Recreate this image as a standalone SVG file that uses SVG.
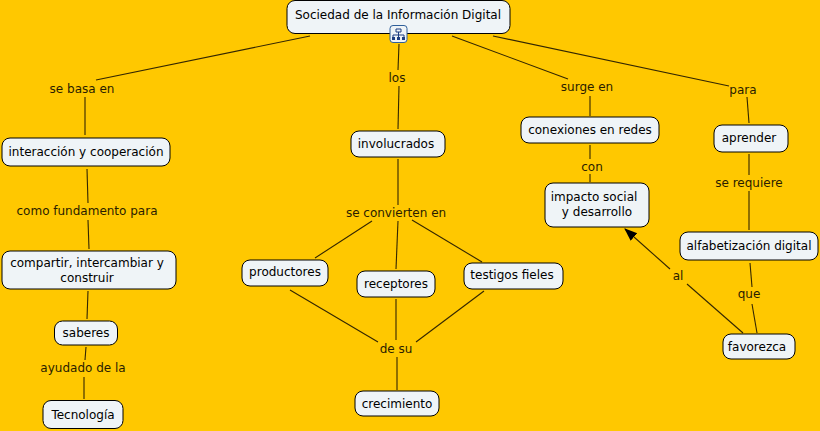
<svg xmlns="http://www.w3.org/2000/svg" width="820" height="431" viewBox="0 0 820 431">
<style>
text{font-family:"DejaVu Sans",Verdana,sans-serif;font-size:12px;fill:#000;text-anchor:middle}
.n rect{fill:#eff4f7;stroke:#000;stroke-width:1}
.l{fill:#2a1d00}
#connectors line{stroke:#332600;stroke-width:1.1}
</style>
<defs><marker id="a" markerWidth="14" markerHeight="12" refX="12" refY="5" orient="auto" markerUnits="userSpaceOnUse"><path d="M0 0L13 5L0 10Z" fill="#000"/></marker></defs>
<rect width="820" height="431" fill="#ffc800"/>
<g id="connectors">
<line x1="310" y1="36" x2="96" y2="80"/><line x1="85" y1="97" x2="85" y2="135"/>
<line x1="399" y1="44" x2="398" y2="70"/><line x1="399" y1="86" x2="398" y2="129"/>
<line x1="452" y1="36" x2="568" y2="79"/><line x1="590" y1="96" x2="590" y2="116"/>
<line x1="493" y1="36" x2="729" y2="86"/><line x1="747" y1="97" x2="749" y2="123"/>
<line x1="87" y1="169" x2="88" y2="203"/><line x1="88" y1="220" x2="89" y2="249"/>
<line x1="88" y1="291" x2="87" y2="319"/>
<line x1="86" y1="347" x2="85" y2="360"/><line x1="84" y1="377" x2="84" y2="399"/>
<line x1="398" y1="159" x2="398" y2="205"/>
<line x1="372" y1="221" x2="315" y2="258"/><line x1="398" y1="221" x2="396" y2="269"/><line x1="412" y1="220" x2="482" y2="262"/>
<line x1="290" y1="290" x2="378" y2="342"/><line x1="396" y1="299" x2="396" y2="340"/><line x1="484" y1="291" x2="416" y2="342"/>
<line x1="397" y1="357" x2="397" y2="390"/>
<line x1="590" y1="145" x2="590" y2="159"/><line x1="590" y1="174" x2="590" y2="182"/>
<line x1="749" y1="154" x2="749" y2="175"/><line x1="749" y1="191" x2="749" y2="230"/>
<line x1="750" y1="263" x2="752" y2="287"/><line x1="752" y1="304" x2="757" y2="333"/>
<line x1="743" y1="333" x2="687" y2="284"/><line x1="670" y1="269" x2="625" y2="229" marker-end="url(#a)"/>
</g>
<g id="linking-labels">
<text class="l" x="82" y="93">se basa en</text>
<text class="l" x="397" y="82">los</text>
<text class="l" x="587" y="91">surge en</text>
<text class="l" x="743" y="94">para</text>
<text class="l" x="87" y="215">como fundamento para</text>
<text class="l" x="83" y="372">ayudado de la</text>
<text class="l" x="396" y="217">se convierten en</text>
<text class="l" x="396" y="353">de su</text>
<text class="l" x="592" y="171">con</text>
<text class="l" x="749" y="187">se requiere</text>
<text class="l" x="749" y="298">que</text>
<text class="l" x="678" y="280">al</text>
</g>
<g id="root" class="n"><rect x="287" y="0.5" width="223" height="33" rx="8"/><text x="398" y="19">Sociedad de la Información Digital</text></g>
<g id="icon"><rect x="390" y="25.500" width="17" height="17" rx="3" fill="#eff4f7" stroke="#2f5f9a"/><path d="M396 29h5v3h-5zM398.500 32v3M393 35h11M393 35v2M404 35v2M398.500 35v3" fill="none" stroke="#1d3d80"/><path d="M392 37h3v3h-3zM397 37h3v3h-3zM402 37h3v3h-3z" fill="#1d3d80"/></g>
<g id="interaccion" class="n"><rect x="2" y="138" width="168" height="28" rx="8"/><text x="86" y="156">interacción y cooperación</text></g>
<g id="compartir" class="n"><rect x="2" y="251" width="174" height="38" rx="8"/><text x="87" y="267">compartir, intercambiar y</text><text x="87" y="282">construir</text></g>
<g id="saberes" class="n"><rect x="54.500" y="321" width="63" height="24" rx="8"/><text x="86" y="337">saberes</text></g>
<g id="tecnologia" class="n"><rect x="43" y="400.500" width="80" height="28" rx="8"/><text x="83" y="419">Tecnología</text></g>
<g id="involucrados" class="n"><rect x="351" y="131" width="94" height="26" rx="8"/><text x="396" y="148">involucrados</text></g>
<g id="productores" class="n"><rect x="242" y="260" width="86" height="26" rx="8"/><text x="285" y="276">productores</text></g>
<g id="receptores" class="n"><rect x="357" y="271" width="78" height="26" rx="8"/><text x="396" y="288">receptores</text></g>
<g id="testigos" class="n"><rect x="464" y="263" width="99" height="26" rx="8"/><text x="512" y="279">testigos fieles</text></g>
<g id="crecimiento" class="n"><rect x="355" y="391" width="84" height="25" rx="8"/><text x="397" y="408">crecimiento</text></g>
<g id="conexiones" class="n"><rect x="521" y="117" width="138" height="26" rx="8"/><text x="590" y="134">conexiones en redes</text></g>
<g id="impacto" class="n"><rect x="545" y="183" width="104" height="44" rx="8"/><text x="594" y="201">impacto social</text><text x="597" y="216">y desarrollo</text></g>
<g id="aprender" class="n"><rect x="714" y="125" width="74" height="27" rx="8"/><text x="749" y="142">aprender</text></g>
<g id="alfabetizacion" class="n"><rect x="680" y="232" width="138" height="28" rx="8"/><text x="749" y="250">alfabetización digital</text></g>
<g id="favorezca" class="n"><rect x="723" y="334" width="72" height="25" rx="8"/><text x="757" y="351">favorezca</text></g>
</svg>
